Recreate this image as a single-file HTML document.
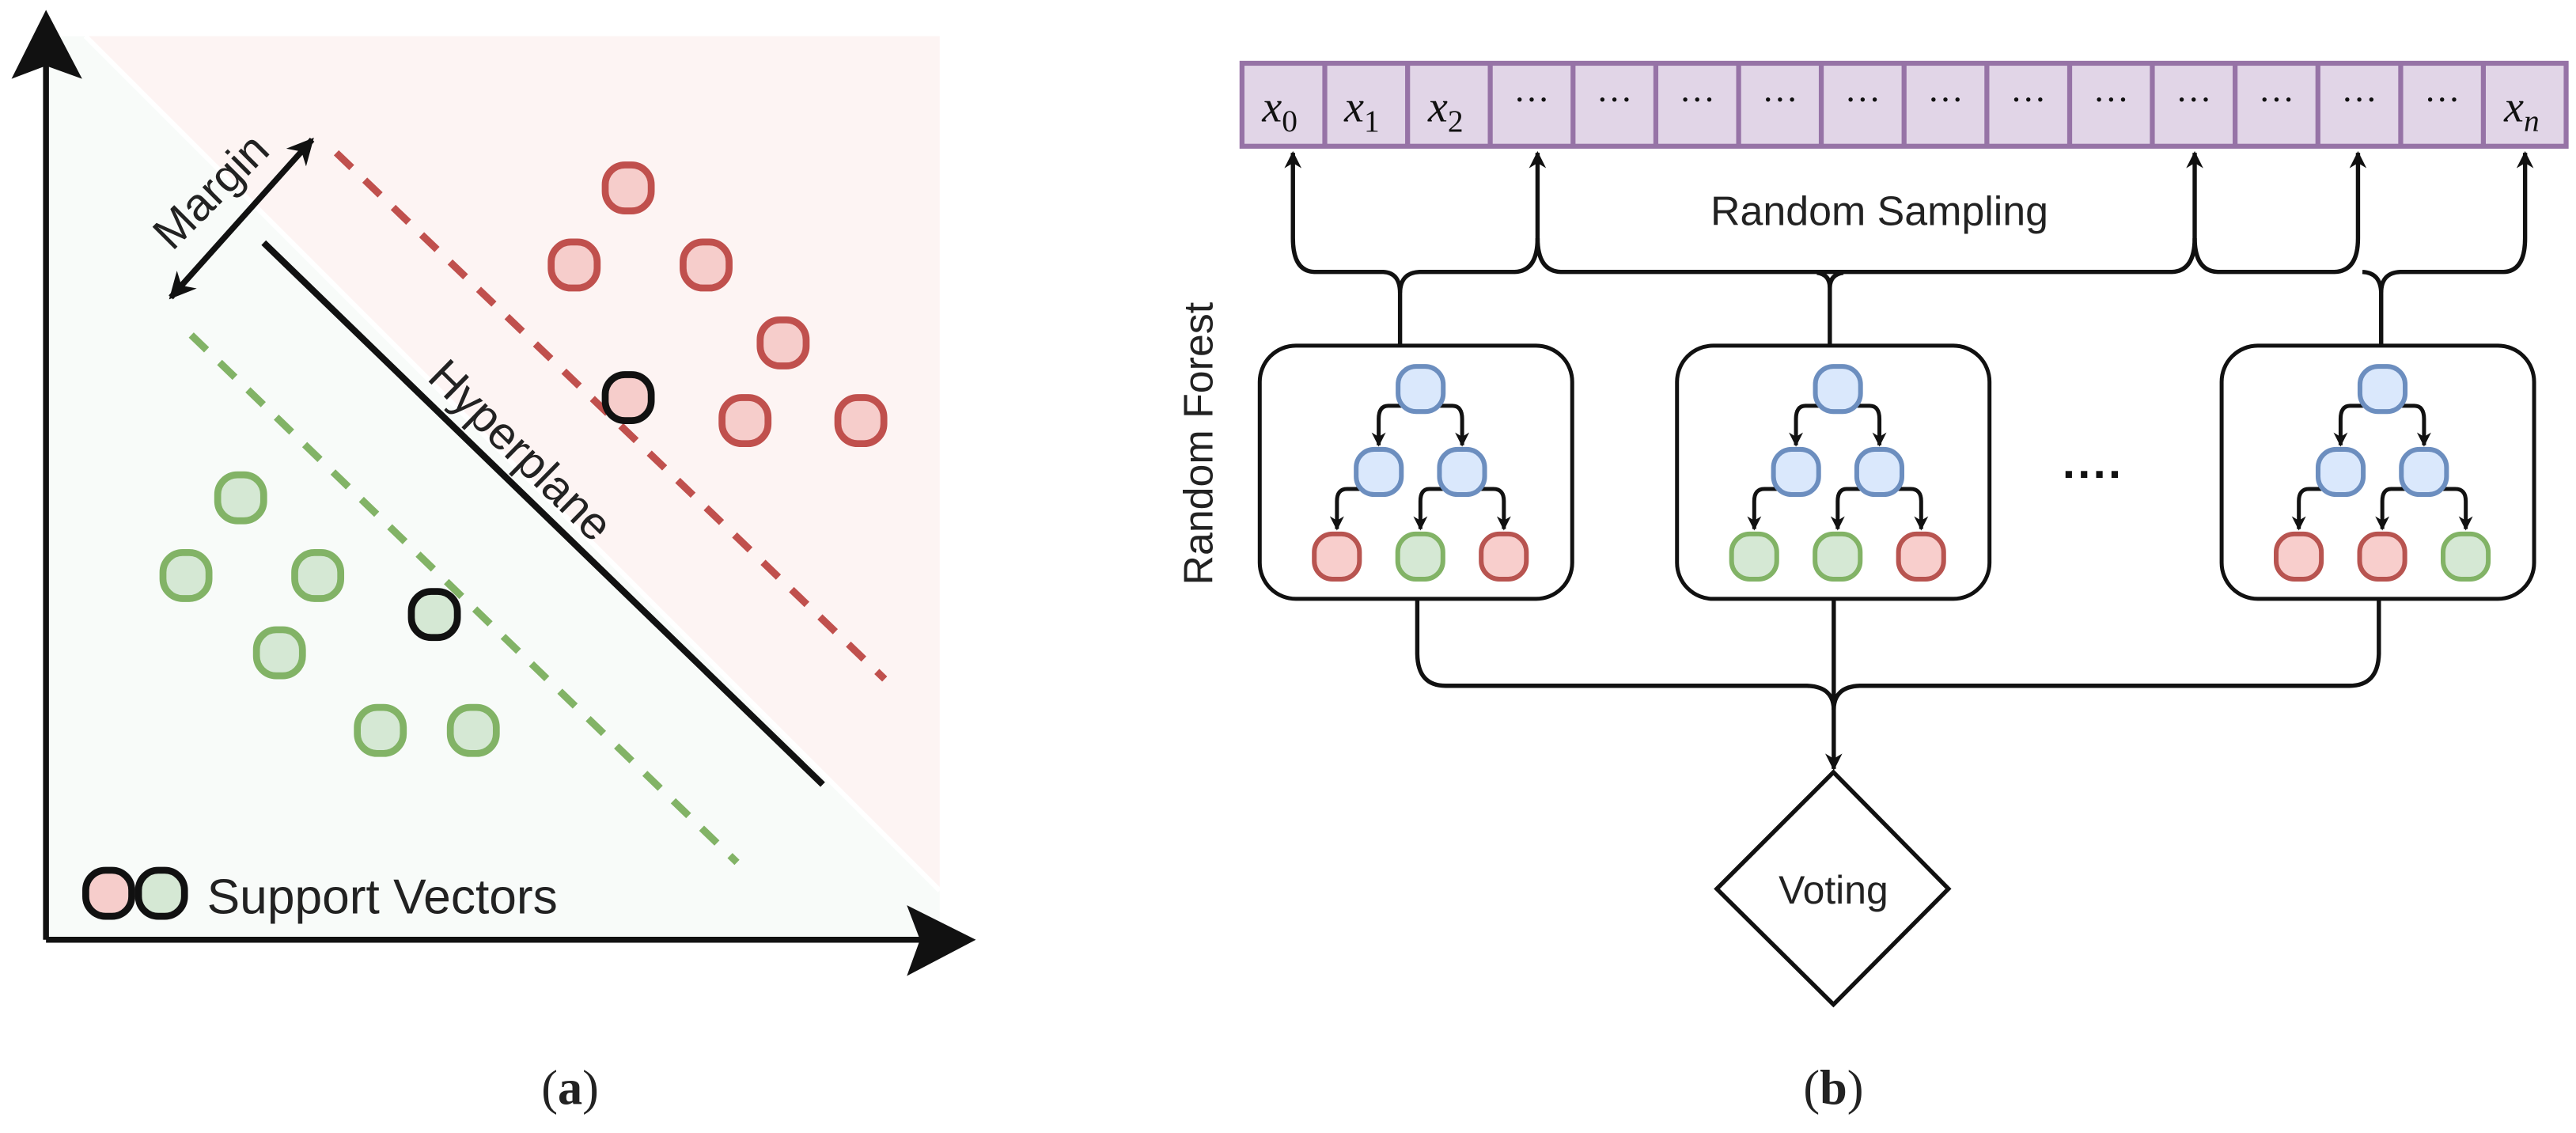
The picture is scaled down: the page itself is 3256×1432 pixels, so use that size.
<!DOCTYPE html>
<html><head><meta charset="utf-8"><style>html,body{margin:0;padding:0;background:#fff}svg{display:block}</style></head>
<body>
<svg width="3256" height="1432" viewBox="0 0 1568 689.6" xmlns="http://www.w3.org/2000/svg" font-family="Liberation Sans, sans-serif">
<defs>
<marker id="ah" viewBox="0 0 10 10" refX="9" refY="5" markerWidth="4" markerHeight="4" orient="auto-start-reverse" markerUnits="strokeWidth"><path d="M0,0 L10,5 L0,10 L3,5 z" fill="#111"/></marker>
<marker id="ah2" viewBox="0 0 10 10" refX="9" refY="5" markerWidth="4.5" markerHeight="4.5" orient="auto-start-reverse" markerUnits="strokeWidth"><path d="M0,0 L10,5 L0,10 L3,5 z" fill="#111"/></marker>
<marker id="ah3" viewBox="0 0 10 10" refX="9" refY="5" markerWidth="3.6" markerHeight="3.6" orient="auto-start-reverse" markerUnits="strokeWidth"><path d="M0,0 L10,5 L0,10 L3,5 z" fill="#111"/></marker>
</defs>
<rect width="1568" height="690" fill="#fff"/>
<!-- Panel (a) -->
<polygon points="28,22 52,22 572,542 572,572 28,572" fill="#f8fbf9"/>
<polygon points="52,22 572,22 572,542" fill="#fdf4f3"/>
<line x1="52" y1="22" x2="572" y2="542" stroke="#fff" stroke-width="3"/>
<line x1="160.5" y1="147.7" x2="500.8" y2="477.5" stroke="#111" stroke-width="4"/>
<line x1="204.7" y1="93" x2="538.5" y2="413.3" stroke="#c0504d" stroke-width="4.4" stroke-dasharray="13,11"/>
<line x1="116.4" y1="203.9" x2="448.6" y2="524.9" stroke="#82b366" stroke-width="4.4" stroke-dasharray="13,11"/>
<line x1="28" y1="572" x2="28" y2="30" stroke="#111" stroke-width="3.6"/>
<polygon points="28,6 7,48 28,40 50,48" fill="#111"/>
<line x1="28" y1="572" x2="570" y2="572" stroke="#111" stroke-width="3.6"/>
<polygon points="594,572 552,551 560,572 552,594" fill="#111"/>
<line x1="104" y1="181" x2="190" y2="85" stroke="#111" stroke-width="3.6" marker-start="url(#ah2)" marker-end="url(#ah2)"/>
<text x="128" y="126" font-size="28" fill="#222" text-anchor="middle" transform="rotate(-45 128 116)">Margin</text>
<text x="318" y="284" font-size="28" fill="#222" text-anchor="middle" transform="rotate(44.5 318 273)">Hyperplane</text>
<g stroke-width="4.2">
<g fill="#f6cdcb" stroke="#c0504d">
<rect x="368.4" y="100.4" width="28" height="28" rx="12"/>
<rect x="335.5" y="147.3" width="28" height="28" rx="12"/>
<rect x="415.8" y="147.3" width="28" height="28" rx="12"/>
<rect x="462.7" y="194.7" width="28" height="28" rx="12"/>
<rect x="439.5" y="242" width="28" height="28" rx="12"/>
<rect x="510" y="242" width="28" height="28" rx="12"/>
</g>
<rect x="368.4" y="228" width="28" height="28" rx="12" fill="#f6cdcb" stroke="#111"/>
<g fill="#d5e8d4" stroke="#82b366">
<rect x="132.5" y="289" width="28" height="28" rx="12"/>
<rect x="99.2" y="336.3" width="28" height="28" rx="12"/>
<rect x="179.4" y="336.3" width="28" height="28" rx="12"/>
<rect x="156.1" y="383.3" width="28" height="28" rx="12"/>
<rect x="217.5" y="430.6" width="28" height="28" rx="12"/>
<rect x="274.1" y="430.6" width="28" height="28" rx="12"/>
</g>
<rect x="250.4" y="360" width="28" height="28" rx="12" fill="#d5e8d4" stroke="#111"/>
<rect x="52.2" y="529.7" width="28" height="28" rx="12" fill="#f6cdcb" stroke="#111"/>
<rect x="84.3" y="529.7" width="28" height="28" rx="12" fill="#d5e8d4" stroke="#111"/>
</g>
<text x="126" y="556" font-size="30" fill="#222">Support Vectors</text>
<text x="347" y="672" font-size="30" font-family="Liberation Serif, serif" text-anchor="middle" fill="#222">(<tspan font-weight="bold">a</tspan>)</text>

<!-- Panel (b) -->
<rect x="756" y="38.5" width="806" height="50.5" fill="#e1d5e7" stroke="#9673a6" stroke-width="3"/>
<g stroke="#9673a6" stroke-width="3">
<line x1="806.4" y1="38.5" x2="806.4" y2="89"/><line x1="856.8" y1="38.5" x2="856.8" y2="89"/><line x1="907.1" y1="38.5" x2="907.1" y2="89"/><line x1="957.5" y1="38.5" x2="957.5" y2="89"/><line x1="1007.9" y1="38.5" x2="1007.9" y2="89"/><line x1="1058.3" y1="38.5" x2="1058.3" y2="89"/><line x1="1108.6" y1="38.5" x2="1108.6" y2="89"/><line x1="1159" y1="38.5" x2="1159" y2="89"/><line x1="1209.4" y1="38.5" x2="1209.4" y2="89"/><line x1="1259.8" y1="38.5" x2="1259.8" y2="89"/><line x1="1310.1" y1="38.5" x2="1310.1" y2="89"/><line x1="1360.5" y1="38.5" x2="1360.5" y2="89"/><line x1="1410.9" y1="38.5" x2="1410.9" y2="89"/><line x1="1461.3" y1="38.5" x2="1461.3" y2="89"/><line x1="1511.6" y1="38.5" x2="1511.6" y2="89"/>
</g>
<g font-family="Liberation Serif, serif" font-size="27" fill="#111" text-anchor="middle" font-style="italic">
<text x="779" y="74">x<tspan font-size="19" font-style="normal" dy="6">0</tspan></text>
<text x="829" y="74">x<tspan font-size="19" font-style="normal" dy="6">1</tspan></text>
<text x="880" y="74">x<tspan font-size="19" font-style="normal" dy="6">2</tspan></text>
<text x="1535" y="74">x<tspan font-size="19" dy="6">n</tspan></text>
</g>
<g font-family="Liberation Serif, serif" font-size="22" fill="#111" text-anchor="middle">
<text x="932.3" y="68">···</text><text x="982.7" y="68">···</text><text x="1033.1" y="68">···</text><text x="1083.5" y="68">···</text><text x="1133.8" y="68">···</text><text x="1184.2" y="68">···</text><text x="1234.6" y="68">···</text><text x="1285" y="68">···</text><text x="1335.3" y="68">···</text><text x="1385.7" y="68">···</text><text x="1436.1" y="68">···</text><text x="1486.5" y="68">···</text>
</g>
<text x="1144" y="137" font-size="25" fill="#222" text-anchor="middle">Random Sampling</text>
<text x="0" y="0" font-size="25" fill="#222" text-anchor="middle" transform="translate(738 270) rotate(-90)">Random Forest</text>

<g fill="none" stroke="#111" stroke-width="2.6">
<path d="M852.2,209.7 L852.2,178 Q852,166 842,165.5 L800,165.5 Q787,165 787,145 L787,93" marker-end="url(#ah)"/>
<path d="M852.2,178 Q852.5,166 864,165.5 L922,165.5 Q935.9,165 935.9,145 L935.9,93" marker-end="url(#ah)"/>
<path d="M935.9,145 Q936,165 950,165.5 L1322,165.5 Q1335.9,165 1335.9,145 L1335.9,93" marker-end="url(#ah)"/>
<path d="M1335.9,145 Q1336,165 1350,165.5 L1421,165.5 Q1435.3,165 1435.3,145 L1435.3,93" marker-end="url(#ah)"/>
<path d="M1449.4,209.7 L1449.4,178 Q1449.5,166 1461,165.5 L1524,165.5 Q1537,165 1537,145 L1537,93" marker-end="url(#ah)"/>
<path d="M1449.4,178 Q1449,166 1438,165.5"/>
<path d="M1113.8,209.7 L1113.8,175 Q1113.8,167 1106,166"/>
<path d="M1113.8,175 Q1114,167 1122,166"/>
<path d="M862.7,364.5 L862.7,398 Q863,417.4 880,417.4 L1100,417.4 Q1116.2,418 1116.2,432"/>
<path d="M1448,364.5 L1448,398 Q1447.5,417.4 1430,417.4 L1132,417.4 Q1116.2,418 1116.2,432"/>
<path d="M1116.2,364.5 L1116.2,468" marker-end="url(#ah)"/>
</g>
<polygon points="1116,470 1186,541 1116,611.4 1045,541" fill="#fff" stroke="#111" stroke-width="2.6"/>
<text x="1116" y="550" font-size="24" fill="#222" text-anchor="middle">Voting</text>
<text x="1116" y="672" font-size="30" font-family="Liberation Serif, serif" text-anchor="middle" fill="#222">(<tspan font-weight="bold">b</tspan>)</text>
<text x="1274" y="298" font-size="28" fill="#111" text-anchor="middle" font-weight="bold">····</text>

<!-- trees -->
<g>
<rect x="766.8" y="210.4" width="190.2" height="154.1" rx="22" fill="none" stroke="#111" stroke-width="2.4"/>
<g fill="none" stroke="#111" stroke-width="2.4">
<path d="M858,247 L845,247 Q839.2,247 839.2,255 L839.2,271" marker-end="url(#ah3)"/>
<path d="M871,247 L884,247 Q890,247 890,255 L890,271" marker-end="url(#ah3)"/>
<path d="M832,297.6 L820,297.6 Q813.8,297.6 813.8,305 L813.8,322" marker-end="url(#ah3)"/>
<path d="M883,297.6 L870,297.6 Q864.6,297.6 864.6,305 L864.6,322" marker-end="url(#ah3)"/>
<path d="M897,297.6 L909,297.6 Q915.4,297.6 915.4,305 L915.4,322" marker-end="url(#ah3)"/>
</g>
<g stroke-width="2.9">
<g fill="#dae8fc" stroke="#6c8ebf">
<rect x="851" y="223" width="27.5" height="27.5" rx="11"/>
<rect x="825.5" y="273.5" width="27.5" height="27.5" rx="11"/>
<rect x="876.2" y="273.5" width="27.5" height="27.5" rx="11"/>
</g>
<rect x="800" y="325" width="27.5" height="27.5" rx="11" fill="#f8cecc" stroke="#b85450"/>
<rect x="850.8" y="325" width="27.5" height="27.5" rx="11" fill="#d5e8d4" stroke="#82b366"/>
<rect x="901.6" y="325" width="27.5" height="27.5" rx="11" fill="#f8cecc" stroke="#b85450"/>
</g>
</g>
<g transform="translate(254 0)">
<rect x="766.8" y="210.4" width="190.2" height="154.1" rx="22" fill="none" stroke="#111" stroke-width="2.4"/>
<g fill="none" stroke="#111" stroke-width="2.4">
<path d="M858,247 L845,247 Q839.2,247 839.2,255 L839.2,271" marker-end="url(#ah3)"/>
<path d="M871,247 L884,247 Q890,247 890,255 L890,271" marker-end="url(#ah3)"/>
<path d="M832,297.6 L820,297.6 Q813.8,297.6 813.8,305 L813.8,322" marker-end="url(#ah3)"/>
<path d="M883,297.6 L870,297.6 Q864.6,297.6 864.6,305 L864.6,322" marker-end="url(#ah3)"/>
<path d="M897,297.6 L909,297.6 Q915.4,297.6 915.4,305 L915.4,322" marker-end="url(#ah3)"/>
</g>
<g stroke-width="2.9">
<g fill="#dae8fc" stroke="#6c8ebf">
<rect x="851" y="223" width="27.5" height="27.5" rx="11"/>
<rect x="825.5" y="273.5" width="27.5" height="27.5" rx="11"/>
<rect x="876.2" y="273.5" width="27.5" height="27.5" rx="11"/>
</g>
<rect x="800" y="325" width="27.5" height="27.5" rx="11" fill="#d5e8d4" stroke="#82b366"/>
<rect x="850.8" y="325" width="27.5" height="27.5" rx="11" fill="#d5e8d4" stroke="#82b366"/>
<rect x="901.6" y="325" width="27.5" height="27.5" rx="11" fill="#f8cecc" stroke="#b85450"/>
</g>
</g>
<g transform="translate(585.5 0)">
<rect x="766.8" y="210.4" width="190.2" height="154.1" rx="22" fill="none" stroke="#111" stroke-width="2.4"/>
<g fill="none" stroke="#111" stroke-width="2.4">
<path d="M858,247 L845,247 Q839.2,247 839.2,255 L839.2,271" marker-end="url(#ah3)"/>
<path d="M871,247 L884,247 Q890,247 890,255 L890,271" marker-end="url(#ah3)"/>
<path d="M832,297.6 L820,297.6 Q813.8,297.6 813.8,305 L813.8,322" marker-end="url(#ah3)"/>
<path d="M883,297.6 L870,297.6 Q864.6,297.6 864.6,305 L864.6,322" marker-end="url(#ah3)"/>
<path d="M897,297.6 L909,297.6 Q915.4,297.6 915.4,305 L915.4,322" marker-end="url(#ah3)"/>
</g>
<g stroke-width="2.9">
<g fill="#dae8fc" stroke="#6c8ebf">
<rect x="851" y="223" width="27.5" height="27.5" rx="11"/>
<rect x="825.5" y="273.5" width="27.5" height="27.5" rx="11"/>
<rect x="876.2" y="273.5" width="27.5" height="27.5" rx="11"/>
</g>
<rect x="800" y="325" width="27.5" height="27.5" rx="11" fill="#f8cecc" stroke="#b85450"/>
<rect x="850.8" y="325" width="27.5" height="27.5" rx="11" fill="#f8cecc" stroke="#b85450"/>
<rect x="901.6" y="325" width="27.5" height="27.5" rx="11" fill="#d5e8d4" stroke="#82b366"/>
</g>
</g>
</svg>
</body></html>
